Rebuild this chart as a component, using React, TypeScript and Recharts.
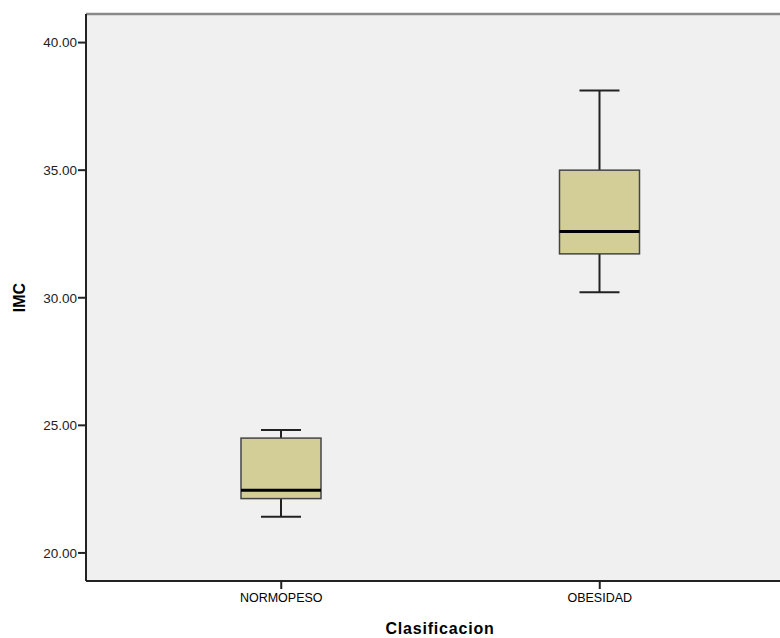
import React from 'react';
import { ComposedChart, Bar, XAxis, YAxis, CartesianGrid, ReferenceLine } from 'recharts';

const categories = ['NORMOPESO', 'OBESIDAD'];
const minValues = [21.42, 30.22];
const q1Values = [22.13, 31.72];
const medianValues = [22.46, 32.6];
const q3Values = [24.5, 35.0];
const maxValues = [24.82, 38.12];
const yTicks = [20, 25, 30, 35, 40];
const yDomain = [18.9, 41.12];

const data = categories.map((c, i) => ({
  name: c,
  range: [minValues[i], maxValues[i]],
  min: minValues[i],
  q1: q1Values[i],
  median: medianValues[i],
  q3: q3Values[i],
  max: maxValues[i],
}));

const BoxShape = (props: any) => {
  const { x, y, width, height, payload } = props;
  const top = Math.min(y, y + height);
  const h = Math.abs(height);
  const span = payload.max - payload.min;
  const unit = span > 0 ? h / span : 0;
  const py = (v: number) => top + (payload.max - v) * unit;
  const cx = x + width / 2;
  const capHalf = width / 4;
  const yMax = py(payload.max);
  const yQ3 = py(payload.q3);
  const yMed = py(payload.median);
  const yQ1 = py(payload.q1);
  const yMin = py(payload.min);
  const ws = '#222222';
  return (
    <g>
      <line x1={cx} x2={cx} y1={yMax} y2={yQ3} stroke={ws} strokeWidth={2} />
      <line x1={cx} x2={cx} y1={yQ1} y2={yMin} stroke={ws} strokeWidth={2} />
      <line x1={cx - capHalf} x2={cx + capHalf} y1={yMax} y2={yMax} stroke={ws} strokeWidth={2} />
      <line x1={cx - capHalf} x2={cx + capHalf} y1={yMin} y2={yMin} stroke={ws} strokeWidth={2} />
      <rect x={x} y={yQ3} width={width} height={yQ1 - yQ3} fill="#d3ce98" stroke="#444444" strokeWidth={1.5} />
      <line x1={x} x2={x + width} y1={yMed} y2={yMed} stroke="#000000" strokeWidth={3} />
    </g>
  );
};

const YLabel = (props: any) => {
  const vb = props.viewBox || {};
  const lx = (vb.x || 0) + 19;
  const ly = (vb.y || 0) + (vb.height || 0) / 2;
  return (
    <text
      x={lx}
      y={ly}
      transform={`rotate(-90, ${lx}, ${ly})`}
      textAnchor="middle"
      dominantBaseline="central"
      fontFamily="Liberation Sans, Arial, sans-serif"
      fontWeight="bold"
      fontSize={16}
      fill="#000"
    >
      IMC
    </text>
  );
};

const XLabel = (props: any) => {
  const vb = props.viewBox || {};
  const lx = (vb.x || 0) + (vb.width || 0) / 2 + 7;
  const ly = (vb.y || 0) + (vb.height || 0) - 4;
  return (
    <text
      x={lx}
      y={ly}
      textAnchor="middle"
      fontFamily="Liberation Sans, Arial, sans-serif"
      fontWeight="bold"
      fontSize={16}
      letterSpacing={0.8}
      fill="#000"
    >
      Clasificacion
    </text>
  );
};

export default function App() {
  return (
    <div style={{ position: 'absolute', left: 0, top: 0, width: 780, height: 638, background: '#fff' }}>
      <ComposedChart
        width={780}
        height={638}
        data={data}
        margin={{ top: 14, right: 0, bottom: 0, left: 0 }}
      >
        <CartesianGrid horizontal={false} vertical={false} fill="#f0f0f0" />
        <ReferenceLine y={yDomain[1]} stroke="#8a8a8a" strokeWidth={2.5} />
        <XAxis
          dataKey="name"
          height={57}
          padding={{ left: 36, right: 21 }}
          axisLine={{ stroke: '#222', strokeWidth: 2 }}
          tickLine={{ stroke: '#222', strokeWidth: 2 }}
          tickSize={8}
          tickMargin={4}
          tick={{ fill: '#000', fontSize: 12.5, fontFamily: 'Liberation Sans, Arial, sans-serif' }}
          label={<XLabel />}
        />
        <YAxis
          type="number"
          domain={yDomain}
          ticks={yTicks}
          width={86}
          allowDataOverflow
          tickFormatter={(v: number) => v.toFixed(2)}
          axisLine={{ stroke: '#222', strokeWidth: 2 }}
          tickLine={{ stroke: '#222', strokeWidth: 2 }}
          tickSize={8}
          tickMargin={1}
          tick={{ fill: '#222', fontSize: 13.5, fontFamily: 'Liberation Sans, Arial, sans-serif' }}
          label={<YLabel />}
        />
        <Bar dataKey="range" barSize={80} shape={<BoxShape />} isAnimationActive={false} />
      </ComposedChart>
    </div>
  );
}
